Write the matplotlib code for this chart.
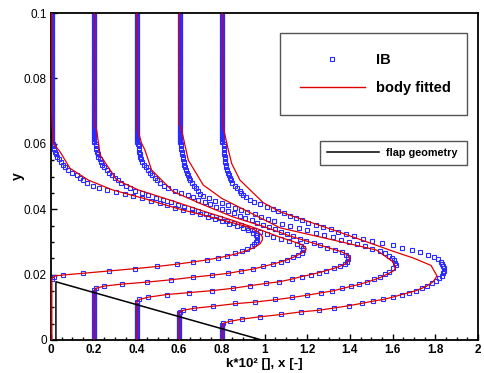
import numpy as np
import matplotlib.pyplot as plt
from matplotlib.lines import Line2D
from matplotlib.ticker import MultipleLocator

plt.rcParams['font.family'] = ['Liberation Sans', 'DejaVu Sans']

# estaciones de los perfiles, x [-]
stations = [0.0, 0.2, 0.4, 0.6, 0.8]

# niveles de la malla IB en la zona densa superior y bajo la superficie
ib_y_top = [0.1000, 0.0995, 0.0990, 0.0985, 0.0980, 0.0975, 0.0970, 0.0965, 0.0960, 0.0955,
            0.0950, 0.0945, 0.0940, 0.0935, 0.0930, 0.0925, 0.0920, 0.0915, 0.0910, 0.0905,
            0.0900, 0.0895, 0.0890, 0.0885, 0.0880, 0.0875, 0.0870, 0.0865, 0.0860, 0.0855,
            0.0850, 0.0845, 0.0840, 0.0835, 0.0830, 0.0825, 0.0820, 0.0815, 0.0810, 0.0805,
            0.0800, 0.0795, 0.0790, 0.0785, 0.0780, 0.0775, 0.0770, 0.0765, 0.0760, 0.0755,
            0.0750, 0.0745, 0.0740, 0.0735, 0.0730, 0.0725, 0.0720, 0.0715, 0.0710, 0.0705,
            0.0700, 0.0695, 0.0690, 0.0685, 0.0680, 0.0675, 0.0670, 0.0665, 0.0660, 0.0655,
            0.0650, 0.0645, 0.0640, 0.0635, 0.0630, 0.0625, 0.0620, 0.0615, 0.0610, 0.0605]
ib_k_top = [0.005, 0.003, 0.002, 0.002, 0.002]
ib_y_wall = [0.0148, 0.0143, 0.0138, 0.0133, 0.0128, 0.0123, 0.0118, 0.0113, 0.0108, 0.0103,
             0.0098, 0.0093, 0.0088, 0.0083, 0.0078, 0.0073, 0.0068, 0.0063, 0.0058, 0.0053,
             0.0048, 0.0043, 0.0038, 0.0033, 0.0028, 0.0023, 0.0018, 0.0013, 0.0008, 0.0003]
ib_k_wall = [None, 0.002, 0.001, 0.001, 0.001]

# perfil 1 (x = 0)
ib_y_p1 = [0.0600, 0.0592, 0.0584,
           0.0576, 0.0568, 0.0560, 0.0552, 0.0544, 0.0536, 0.0528, 0.0520, 0.0512, 0.0504,
           0.0496, 0.0488, 0.0480, 0.0472, 0.0466, 0.0460, 0.0454, 0.0447, 0.0440, 0.0433,
           0.0426, 0.0419, 0.0412, 0.0405, 0.0398, 0.0391, 0.0384, 0.0377, 0.0370, 0.0363,
           0.0356, 0.0349, 0.0342, 0.0335, 0.0328, 0.0321, 0.0314, 0.0307, 0.0300, 0.0293,
           0.0286, 0.0279, 0.0272, 0.0265, 0.0258, 0.0251, 0.0245, 0.0239, 0.0232, 0.0225,
           0.0218, 0.0211, 0.0204, 0.0199, 0.0194, 0.0187]
ib_k_p1 = [0.011, 0.013, 0.016,
           0.019, 0.024, 0.029, 0.038, 0.046, 0.056, 0.065, 0.078, 0.100, 0.122,
           0.135, 0.150, 0.170, 0.196, 0.225, 0.262, 0.305, 0.345, 0.385, 0.425,
           0.468, 0.510, 0.545, 0.580, 0.620, 0.660, 0.700, 0.735, 0.770, 0.800,
           0.835, 0.870, 0.900, 0.925, 0.945, 0.960, 0.967, 0.966, 0.962, 0.953,
           0.940, 0.920, 0.895, 0.862, 0.825, 0.780, 0.729, 0.667, 0.592, 0.498,
           0.393, 0.272, 0.148, 0.058, 0.014, 0.003]
bf_y_p1 = [0.1, 0.07, 0.065, 0.0601, 0.0576, 0.0525, 0.0489, 0.046, 0.0446, 0.0432,
           0.0416, 0.0397, 0.0381, 0.0367, 0.0357, 0.0348, 0.0338, 0.0328, 0.0316, 0.0306,
           0.0295, 0.0284, 0.0274, 0.0266, 0.0259, 0.0252, 0.0245, 0.0239, 0.0232, 0.0225,
           0.0218, 0.0211, 0.0204, 0.0199, 0.0196, 0.0188, 0.0]
bf_k_p1 = [0.004, 0.004, 0.006, 0.011, 0.042, 0.089, 0.175, 0.284, 0.36, 0.44,
           0.52, 0.62, 0.72, 0.80, 0.86, 0.91, 0.95, 0.975, 0.99, 0.99,
           0.98, 0.955, 0.92, 0.88, 0.84, 0.79, 0.73, 0.67, 0.59, 0.50,
           0.39, 0.27, 0.15, 0.06, 0.02, 0.004, 0.004]

# perfil 2 (x = 0.2)
ib_y_p2 = [0.0600, 0.0592, 0.0584,
           0.0576, 0.0568, 0.0560, 0.0552, 0.0544, 0.0536, 0.0528, 0.0520, 0.0512, 0.0504,
           0.0496, 0.0488, 0.0480, 0.0472, 0.0464, 0.0456, 0.0449, 0.0442, 0.0435, 0.0428,
           0.0421, 0.0414, 0.0407, 0.0400, 0.0393, 0.0386, 0.0379, 0.0372, 0.0365, 0.0358,
           0.0351, 0.0344, 0.0337, 0.0330, 0.0323, 0.0316, 0.0309, 0.0302, 0.0295, 0.0288,
           0.0281, 0.0274, 0.0267, 0.0260, 0.0253, 0.0245, 0.0239, 0.0232, 0.0225, 0.0217,
           0.0211, 0.0204, 0.0198, 0.0192, 0.0184, 0.0177, 0.0171, 0.0165, 0.0158, 0.0153]
ib_k_p2 = [0.009, 0.011, 0.013,
           0.016, 0.019, 0.022, 0.028, 0.034, 0.041, 0.049, 0.060, 0.073, 0.087,
           0.100, 0.115, 0.130, 0.150, 0.170, 0.195, 0.225, 0.255, 0.290, 0.325,
           0.360, 0.395, 0.425, 0.460, 0.490, 0.525, 0.555, 0.590, 0.625, 0.655,
           0.690, 0.720, 0.750, 0.780, 0.810, 0.840, 0.875, 0.915, 0.950, 0.970,
           0.980, 0.982, 0.975, 0.955, 0.932, 0.907, 0.876, 0.838, 0.795, 0.748,
           0.691, 0.631, 0.553, 0.464, 0.361, 0.248, 0.134, 0.050, 0.011, 0.003]
bf_y_p2 = [0.1, 0.066, 0.0642, 0.0566, 0.0489, 0.0459, 0.0423, 0.0397, 0.0366, 0.0337,
           0.0315, 0.0302, 0.0293, 0.0285, 0.0278, 0.0270, 0.0262, 0.0254, 0.0246, 0.0239,
           0.0232, 0.0225, 0.0217, 0.0211, 0.0204, 0.0198, 0.0192, 0.0184, 0.0177, 0.0171,
           0.0165, 0.0158, 0.0150, 0.0]
bf_k_p2 = [0.003, 0.003, 0.014, 0.030, 0.108, 0.209, 0.381, 0.50, 0.65, 0.78,
           0.87, 0.93, 0.97, 0.99, 0.995, 0.985, 0.962, 0.938, 0.910, 0.876,
           0.838, 0.795, 0.748, 0.691, 0.631, 0.553, 0.464, 0.361, 0.248, 0.134,
           0.050, 0.010, 0.002, 0.002]

# perfil 3 (x = 0.4)
ib_y_p3 = [0.0600, 0.0592, 0.0584,
           0.0576, 0.0568, 0.0560, 0.0552, 0.0544, 0.0536, 0.0528, 0.0520, 0.0512, 0.0504,
           0.0496, 0.0488, 0.0480, 0.0472, 0.0464, 0.0457, 0.0450, 0.0443, 0.0436, 0.0429,
           0.0422, 0.0415, 0.0408, 0.0401, 0.0394, 0.0387, 0.0380, 0.0373, 0.0366, 0.0359,
           0.0352, 0.0345, 0.0338, 0.0331, 0.0324, 0.0317, 0.0310, 0.0303, 0.0296, 0.0289,
           0.0282, 0.0275, 0.0268, 0.0261, 0.0254, 0.0247, 0.0240, 0.0233, 0.0226, 0.0219,
           0.0212, 0.0206, 0.0200, 0.0194, 0.0186, 0.0178, 0.0173, 0.0166, 0.0158, 0.0151,
           0.0145, 0.0139, 0.0131, 0.0124, 0.0116]
ib_k_p3 = [0.009, 0.010, 0.012,
           0.013, 0.015, 0.018, 0.022, 0.028, 0.036, 0.044, 0.056, 0.066, 0.075,
           0.085, 0.096, 0.110, 0.128, 0.149, 0.180, 0.210, 0.240, 0.265, 0.290,
           0.320, 0.345, 0.375, 0.400, 0.430, 0.455, 0.485, 0.510, 0.540, 0.565,
           0.595, 0.620, 0.650, 0.675, 0.705, 0.735, 0.765, 0.795, 0.830, 0.860,
           0.895, 0.930, 0.962, 0.980, 0.990, 0.992, 0.988, 0.977, 0.955, 0.925,
           0.888, 0.855, 0.816, 0.774, 0.727, 0.669, 0.606, 0.532, 0.451, 0.355,
           0.248, 0.142, 0.056, 0.014, 0.003]
bf_y_p3 = [0.1, 0.0653, 0.0602, 0.0581, 0.052, 0.0454, 0.0418, 0.0377, 0.0346, 0.0318,
           0.0298, 0.0282, 0.027, 0.026, 0.0252, 0.0243, 0.0233, 0.0226, 0.0219, 0.0212,
           0.0206, 0.0200, 0.0194, 0.0186, 0.0178, 0.0173, 0.0166, 0.0158, 0.0151, 0.0145,
           0.0139, 0.0131, 0.0124, 0.0115, 0.0]
bf_k_p3 = [0.002, 0.002, 0.024, 0.040, 0.071, 0.172, 0.297, 0.45, 0.60, 0.72,
           0.82, 0.90, 0.96, 0.99, 1.0, 0.995, 0.98, 0.955, 0.925, 0.888,
           0.855, 0.816, 0.774, 0.727, 0.669, 0.606, 0.532, 0.451, 0.355, 0.248,
           0.142, 0.056, 0.014, 0.002, 0.002]

# perfil 4 (x = 0.6)
ib_y_p4 = [0.0600, 0.0592, 0.0584,
           0.0576, 0.0568, 0.0560, 0.0552, 0.0544, 0.0536, 0.0528, 0.0520, 0.0512, 0.0504,
           0.0496, 0.0488, 0.0480, 0.0472, 0.0464, 0.0456, 0.0448, 0.0440, 0.0433, 0.0426,
           0.0419, 0.0412, 0.0405, 0.0398, 0.0391, 0.0384, 0.0377, 0.0370, 0.0363, 0.0356,
           0.0349, 0.0342, 0.0335, 0.0328, 0.0321, 0.0314, 0.0307, 0.0300, 0.0293, 0.0286,
           0.0279, 0.0272, 0.0265, 0.0258, 0.0251, 0.0244, 0.0237, 0.0229, 0.0219, 0.0209,
           0.0202, 0.0194, 0.0186, 0.0178, 0.0171, 0.0165, 0.0158, 0.0151, 0.0145, 0.0138,
           0.0131, 0.0124, 0.0117, 0.0112, 0.0104, 0.0098, 0.0092, 0.0087]
ib_k_p4 = [0.008, 0.009, 0.011,
           0.013, 0.015, 0.017, 0.019, 0.022, 0.025, 0.028, 0.032, 0.037, 0.042,
           0.047, 0.053, 0.060, 0.068, 0.078, 0.089, 0.100, 0.113, 0.140, 0.170,
           0.200, 0.230, 0.260, 0.290, 0.320, 0.355, 0.385, 0.415, 0.445, 0.480,
           0.520, 0.560, 0.600, 0.640, 0.680, 0.720, 0.760, 0.795, 0.835, 0.870,
           0.905, 0.940, 0.963, 0.982, 0.995, 1.005, 1.012, 1.016, 1.004, 0.985,
           0.964, 0.941, 0.913, 0.879, 0.844, 0.804, 0.762, 0.718, 0.663, 0.600,
           0.530, 0.449, 0.355, 0.262, 0.157, 0.070, 0.020, 0.004]
bf_y_p4 = [0.1, 0.066, 0.0642, 0.055, 0.0474, 0.0433, 0.0343, 0.0309, 0.0275, 0.024,
           0.0222, 0.0212, 0.0205, 0.0198, 0.0191, 0.0184, 0.0177, 0.0170, 0.0164, 0.0157,
           0.0150, 0.0144, 0.0137, 0.0130, 0.0123, 0.0116, 0.0111, 0.0103, 0.0097, 0.0091,
           0.0085, 0.0]
bf_k_p4 = [0.002, 0.002, 0.012, 0.043, 0.113, 0.200, 0.473, 0.70, 0.925, 1.0,
           1.015, 1.005, 0.985, 0.964, 0.941, 0.913, 0.879, 0.844, 0.804, 0.762,
           0.718, 0.663, 0.600, 0.530, 0.449, 0.355, 0.262, 0.157, 0.070, 0.020,
           0.002, 0.002]

# perfil 5 (x = 0.8)
ib_y_p5 = [0.0600, 0.0592, 0.0584,
           0.0576, 0.0568, 0.0560, 0.0552, 0.0544, 0.0536, 0.0528, 0.0520, 0.0512, 0.0504,
           0.0496, 0.0488, 0.0480, 0.0472, 0.0464, 0.0456, 0.0450, 0.0443, 0.0436, 0.0429,
           0.0422, 0.0415, 0.0408, 0.0401, 0.0394, 0.0387, 0.0380, 0.0373, 0.0366, 0.0359,
           0.0352, 0.0345, 0.0338, 0.0331, 0.0324, 0.0317, 0.0310, 0.0303, 0.0296, 0.0289,
           0.0282, 0.0275, 0.0268, 0.0261, 0.0254, 0.0247, 0.0240, 0.0233, 0.0226, 0.0219,
           0.0212, 0.0206, 0.0196, 0.0189, 0.0181, 0.0173, 0.0165, 0.0158, 0.0151, 0.0145,
           0.0139, 0.0131, 0.0124, 0.0119, 0.0112, 0.0105, 0.0098, 0.0091, 0.0086, 0.0078,
           0.0071, 0.0064, 0.0057, 0.0051, 0.0045]
ib_k_p5 = [0.008, 0.009, 0.010,
           0.011, 0.012, 0.013, 0.015, 0.017, 0.019, 0.021, 0.025, 0.029, 0.033,
           0.037, 0.042, 0.050, 0.060, 0.073, 0.085, 0.090, 0.100, 0.112, 0.130,
           0.153, 0.180, 0.210, 0.238, 0.265, 0.293, 0.320, 0.347, 0.375, 0.405,
           0.440, 0.475, 0.510, 0.545, 0.580, 0.620, 0.663, 0.705, 0.750, 0.800,
           0.845, 0.890, 0.930, 0.965, 0.995, 1.013, 1.025, 1.033, 1.038, 1.041,
           1.041, 1.037, 1.030, 1.017, 1.002, 0.983, 0.960, 0.936, 0.910, 0.878,
           0.843, 0.800, 0.757, 0.710, 0.655, 0.596, 0.527, 0.455, 0.371, 0.277,
           0.179, 0.096, 0.038, 0.007, 0.002]
bf_y_p5 = [0.1, 0.0673, 0.0642, 0.0591, 0.054, 0.0489, 0.042, 0.0392, 0.033, 0.0272,
           0.0250, 0.0228, 0.0196, 0.0178, 0.0165, 0.0158, 0.0151, 0.0145, 0.0139, 0.0131,
           0.0124, 0.0119, 0.0112, 0.0105, 0.0098, 0.0091, 0.0086, 0.0078, 0.0071, 0.0064,
           0.0057, 0.0051, 0.0044, 0.0]
bf_k_p5 = [0.002, 0.004, 0.010, 0.027, 0.046, 0.085, 0.194, 0.273, 0.550, 0.800,
           0.900, 0.980, 1.008, 0.990, 0.960, 0.936, 0.910, 0.878, 0.843, 0.800,
           0.757, 0.710, 0.655, 0.596, 0.527, 0.455, 0.371, 0.277, 0.179, 0.096,
           0.038, 0.007, 0.002, 0.002]

# geometria del flap
flap_x = [0.023, 0.023, 0.987]
flap_y = [0.0, 0.0178, 0.0]

x_ticks = [0, 0.2, 0.4, 0.6, 0.8, 1.0, 1.2, 1.4, 1.6, 1.8, 2.0]
x_tick_labels = ['0', '0.2', '0.4', '0.6', '0.8', '1', '1.2', '1.4', '1.6', '1.8', '2']
y_ticks = [0, 0.02, 0.04, 0.06, 0.08, 0.1]
y_tick_labels = ['0', '0.02', '0.04', '0.06', '0.08', '0.1']

ib_y = [ib_y_p1, ib_y_p2, ib_y_p3, ib_y_p4, ib_y_p5]
ib_k = [ib_k_p1, ib_k_p2, ib_k_p3, ib_k_p4, ib_k_p5]
bf_y = [bf_y_p1, bf_y_p2, bf_y_p3, bf_y_p4, bf_y_p5]
bf_k = [bf_k_p1, bf_k_p2, bf_k_p3, bf_k_p4, bf_k_p5]

blue = '#2b2bff'
red = '#e00000'

fig = plt.figure(figsize=(4.84, 3.73), dpi=100)
ax = fig.add_axes([51 / 484, 33 / 373, 427 / 484, 327 / 373])

# puntos IB
mk = dict(ls='none', marker='s', ms=3.0, mfc='none', mec=blue, mew=0.8, zorder=2)
for i, s in enumerate(stations):
    yy = list(ib_y_top) + list(ib_y[i])
    kk = [ib_k_top[i]] * len(ib_y_top) + list(ib_k[i])
    if ib_k_wall[i] is not None:
        yw = [v for v in ib_y_wall if v < min(ib_y[i])]
        yy += yw
        kk += [ib_k_wall[i]] * len(yw)
    ax.plot(s + np.array(kk), yy, **mk)

# lineas body fitted
for s, k, y in zip(stations, bf_k, bf_y):
    ax.plot(s + np.array(k), y, color=red, lw=0.9, zorder=3)

ax.plot(flap_x, flap_y, color='black', lw=1.1, zorder=4)

ax.set_xlim(0, 2)
ax.set_ylim(0, 0.1)
ax.set_xticks(x_ticks, labels=x_tick_labels, fontweight='bold', fontsize=8.5)
ax.set_yticks(y_ticks, labels=y_tick_labels, fontsize=8.5)
ax.xaxis.set_minor_locator(MultipleLocator(0.05))
ax.yaxis.set_minor_locator(MultipleLocator(0.005))
ax.tick_params(which='major', direction='in', length=4.5, width=1.0, pad=3)
ax.tick_params(which='minor', direction='in', length=2.3, width=1.0)
for sp in ax.spines.values():
    sp.set_linewidth(1.3)

ax.set_xlabel('k*10² [], x [-]', fontweight='bold', fontsize=9.6, labelpad=1)
ax.set_ylabel('y', fontweight='bold', fontsize=10, labelpad=-1)

# leyendas
h_ib = Line2D([], [], **mk)
h_bf = Line2D([], [], color=red, lw=1.0)
leg1 = ax.legend([h_ib, h_bf], ['IB', 'body fitted'], loc='upper left',
                 bbox_to_anchor=(0.536, 0.688, 0.438, 0.251), mode='expand',
                 prop=dict(weight='bold', size=10.5), fancybox=False, framealpha=1,
                 edgecolor='#555555', borderpad=1.35, labelspacing=1.0,
                 handlelength=4.5, handletextpad=0.75, borderaxespad=0, numpoints=1)
leg1.get_frame().set_linewidth(1.0)
ax.add_artist(leg1)

h_flap = Line2D([], [], color='black', lw=1.1)
leg2 = ax.legend([h_flap], ['flap geometry'], loc='upper left',
                 bbox_to_anchor=(0.63, 0.529, 0.344, 0.0795), mode='expand',
                 prop=dict(weight='bold', size=7.8), fancybox=False, framealpha=1,
                 edgecolor='#555555', borderpad=0.65, handlelength=4.8,
                 handletextpad=0.65, borderaxespad=0)
leg2.get_frame().set_linewidth(1.0)

fig.savefig('out.png', dpi=100)
